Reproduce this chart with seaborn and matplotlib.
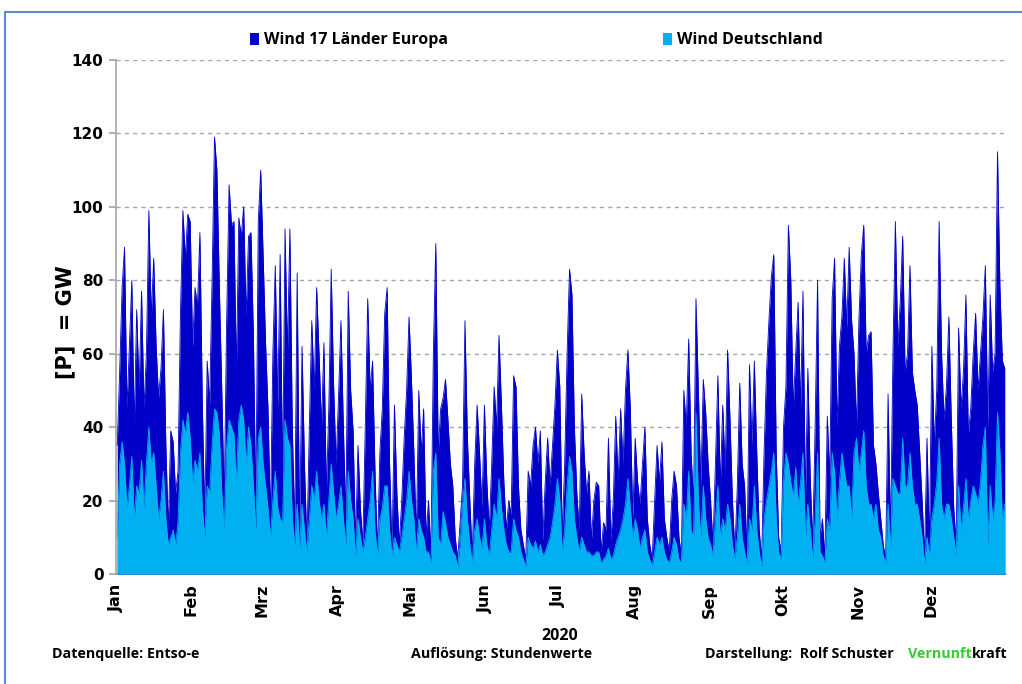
import matplotlib
matplotlib.use("Agg")
import matplotlib.pyplot as plt
import matplotlib.lines as mlines
from matplotlib.patches import Rectangle
import numpy as np
import pandas as pd
import seaborn as sns

# Tageswerte Windleistung 2020 in GW, je Monat
eu_jan = [35, 55, 78, 89, 45, 62, 80, 40, 72, 50, 77, 45, 60, 99, 70, 86, 62, 48, 56, 72,
          35, 12, 39, 36, 22, 28, 71, 99, 86, 98, 96]
eu_feb = [62, 78, 73, 93, 46, 15, 58, 46, 80, 119, 110, 78, 50, 20, 69, 106, 95, 96, 55, 97,
          92, 100, 70, 92, 93, 65, 18, 96, 110]
eu_mar = [87, 63, 45, 15, 60, 84, 45, 87, 25, 94, 60, 94, 40, 12, 82, 10, 62, 30, 8, 40,
          69, 50, 78, 60, 40, 63, 22, 45, 83, 51, 30]
eu_apr = [48, 69, 40, 15, 77, 50, 39, 8, 35, 18, 8, 40, 75, 50, 58, 28, 6, 33, 45, 71,
          78, 30, 6, 46, 22, 8, 20, 37, 50, 70]
eu_mai = [53, 33, 10, 50, 33, 45, 10, 20, 5, 60, 90, 33, 45, 48, 53, 42, 30, 24, 10, 4,
          14, 24, 69, 37, 20, 5, 30, 46, 33, 18, 46]
eu_jun = [25, 12, 30, 51, 40, 65, 46, 25, 12, 20, 16, 54, 51, 24, 12, 8, 4, 28, 24, 35,
          40, 30, 39, 9, 25, 37, 24, 35, 46, 61]
eu_jul = [51, 10, 30, 60, 83, 76, 40, 22, 12, 49, 33, 22, 28, 9, 20, 25, 24, 6, 14, 12,
          37, 9, 20, 43, 25, 45, 30, 50, 61, 45, 15]
eu_aug = [37, 25, 19, 30, 40, 15, 8, 4, 20, 35, 25, 36, 15, 10, 6, 20, 28, 24, 10, 5,
          50, 40, 64, 33, 19, 75, 50, 24, 53, 44, 30]
eu_sep = [20, 8, 30, 54, 24, 46, 28, 61, 42, 20, 6, 24, 52, 30, 24, 5, 57, 35, 58, 33,
          12, 4, 33, 55, 69, 81, 87, 33, 10, 6]
eu_okt = [40, 51, 95, 80, 45, 60, 74, 45, 77, 20, 56, 26, 8, 40, 80, 10, 15, 4, 43, 26,
          75, 86, 40, 62, 70, 86, 67, 89, 69, 60, 40]
eu_nov = [69, 87, 95, 60, 65, 66, 35, 30, 22, 15, 8, 4, 49, 10, 60, 96, 62, 74, 92, 55,
          60, 84, 55, 50, 46, 33, 20, 5, 37, 8]
eu_dez = [62, 35, 50, 96, 60, 42, 51, 70, 42, 18, 8, 67, 45, 55, 76, 38, 45, 60, 71, 50,
          60, 70, 84, 40, 76, 55, 60, 115, 78, 58, 56]

de_jan = [10, 30, 36, 30, 18, 24, 32, 15, 24, 22, 31, 18, 30, 40, 30, 33, 24, 15, 20, 28,
          15, 8, 10, 12, 8, 14, 33, 42, 38, 44, 37]
de_feb = [25, 31, 28, 33, 18, 10, 24, 22, 35, 45, 44, 38, 22, 12, 35, 42, 40, 38, 25, 42,
          46, 42, 30, 40, 35, 24, 12, 37, 40]
de_mar = [30, 24, 18, 10, 20, 28, 18, 15, 14, 42, 37, 35, 15, 8, 19, 7, 19, 12, 6, 15,
          24, 20, 28, 20, 15, 19, 10, 20, 30, 22, 15]
de_apr = [19, 24, 15, 8, 28, 20, 15, 5, 15, 10, 6, 10, 15, 20, 28, 12, 5, 15, 18, 24,
          24, 12, 5, 10, 8, 6, 10, 15, 20, 28]
de_mai = [20, 15, 6, 15, 12, 10, 6, 6, 3, 28, 33, 10, 8, 17, 14, 10, 8, 6, 5, 2,
          8, 19, 26, 15, 8, 3, 12, 15, 10, 7, 15]
de_jun = [8, 5, 12, 19, 15, 26, 18, 12, 8, 6, 6, 15, 12, 10, 6, 4, 2, 10, 8, 7,
          9, 6, 8, 5, 6, 8, 10, 14, 19, 26]
de_jul = [20, 6, 12, 24, 32, 28, 15, 10, 6, 10, 8, 6, 6, 5, 5, 6, 6, 3, 4, 5,
          7, 4, 5, 8, 10, 12, 15, 19, 26, 18, 10]
de_aug = [15, 12, 7, 10, 12, 6, 4, 2, 6, 10, 8, 10, 6, 4, 3, 6, 10, 8, 4, 3,
          19, 15, 28, 12, 10, 44, 20, 10, 24, 15, 10]
de_sep = [8, 5, 15, 24, 10, 15, 12, 19, 15, 8, 4, 10, 19, 10, 6, 3, 15, 12, 24, 12,
          6, 2, 15, 20, 24, 28, 33, 15, 6, 4]
de_okt = [25, 33, 30, 25, 21, 29, 19, 25, 33, 10, 19, 12, 4, 15, 33, 6, 5, 3, 15, 12,
          33, 28, 15, 25, 33, 28, 24, 24, 15, 33, 37]
de_nov = [28, 33, 39, 24, 19, 19, 15, 19, 12, 10, 5, 3, 19, 7, 26, 24, 22, 22, 37, 24,
          24, 33, 24, 19, 19, 15, 10, 3, 10, 5]
de_dez = [15, 19, 25, 37, 19, 15, 19, 19, 15, 10, 5, 24, 12, 18, 26, 15, 20, 24, 22, 19,
          25, 35, 40, 8, 24, 15, 20, 44, 33, 15, 19]

monate = ["Jan", "Feb", "Mrz", "Apr", "Mai", "Jun", "Jul", "Aug", "Sep", "Okt", "Nov", "Dez"]
y_ticks = [0, 20, 40, 60, 80, 100, 120, 140]
serie_eu = "Wind 17 Länder Europa"
serie_de = "Wind Deutschland"

EU_COLOR = "#0000C8"
DE_COLOR = "#00B0F0"
GRID_COLOR = "#A6A6A6"
SANS = ["Open Sans", "DejaVu Sans"]

eu = sum([eu_jan, eu_feb, eu_mar, eu_apr, eu_mai, eu_jun,
          eu_jul, eu_aug, eu_sep, eu_okt, eu_nov, eu_dez], [])
de = sum([de_jan, de_feb, de_mar, de_apr, de_mai, de_jun,
          de_jul, de_aug, de_sep, de_okt, de_nov, de_dez], [])
tage = pd.date_range("2020-01-01 12:00", periods=len(eu), freq="D")
df = pd.DataFrame({"Datum": tage, "Europa": eu, "Deutschland": de})

sns.set_theme(style="white")
plt.rcParams["font.family"] = ["DejaVu Sans"]
plt.rcParams["text.color"] = "black"

fig = plt.figure(figsize=(10.22, 6.84), dpi=100)
ax = fig.add_axes([116 / 1022, 1 - 574 / 684, 890 / 1022, 514 / 684])

sns.lineplot(data=df, x="Datum", y="Europa", ax=ax, color=EU_COLOR, lw=0.6, zorder=3)
ax.fill_between(df["Datum"], 0, df["Europa"], color=EU_COLOR, lw=0, zorder=3)
sns.lineplot(data=df, x="Datum", y="Deutschland", ax=ax, color=DE_COLOR, lw=0.6, zorder=4)
ax.fill_between(df["Datum"], 0, df["Deutschland"], color=DE_COLOR, lw=0, zorder=4)

ax.set_xlim(pd.Timestamp("2020-01-01"), pd.Timestamp("2021-01-01"))
ax.set_ylim(0, 140)
ax.set_yticks(y_ticks)
ax.set_yticklabels([str(v) for v in y_ticks], fontsize=11, fontweight="bold", color="black")
ax.set_xticks(pd.date_range("2020-01-01", periods=12, freq="MS"))
ax.set_xticklabels(monate, rotation=90, fontsize=11.5, fontweight="bold", color="black")
ax.set_xlabel("")
ax.set_ylabel("")

ax.set_axisbelow(True)
ax.yaxis.grid(True, linestyle=(0, (3, 3)), color=GRID_COLOR, lw=1)
ax.xaxis.grid(False)
for side in ("top", "right"):
    ax.spines[side].set_visible(False)
for side in ("left", "bottom"):
    ax.spines[side].set_color(GRID_COLOR)
    ax.spines[side].set_linewidth(1.2)
ax.tick_params(axis="y", left=True, length=5, color=GRID_COLOR, pad=4)
ax.tick_params(axis="x", bottom=False, length=0, pad=7)

# Achsentitel
fig.text(65 / 1022, 1 - 322 / 684, "[P]  = GW", rotation=90, fontsize=15,
         fontweight="bold", ha="center", va="center", color="black")
fig.text(560 / 1022, 1 - 636 / 684, "2020", fontsize=11.5, fontweight="bold",
         ha="center", va="center", family=SANS, color="black")

# Legende oben
for x0, farbe, name in ((250, EU_COLOR, serie_eu), (663, DE_COLOR, serie_de)):
    fig.patches.append(Rectangle((x0 / 1022, 1 - 45 / 684), 9 / 1022, 12 / 684,
                                 transform=fig.transFigure, facecolor=farbe,
                                 edgecolor="none", figure=fig))
    fig.text((x0 + 14) / 1022, 1 - 40 / 684, name, fontsize=11.5, fontweight="bold",
             ha="left", va="center", family=SANS, color="black")

# Fußzeile
fy = 1 - 654 / 684
fuss = dict(fontsize=10.3, fontweight="bold", va="center", family=SANS, color="black")
fig.text(52 / 1022, fy, "Datenquelle: Entso-e", ha="left", **fuss)
fig.text(502 / 1022, fy, "Auflösung: Stundenwerte", ha="center", **fuss)
fig.text(705 / 1022, fy, "Darstellung:  Rolf Schuster", ha="left", **fuss)
t_v = fig.text(908 / 1022, fy, "Vernunft", ha="left",
               **{**fuss, "color": "#33CC33"})
ax.annotate("kraft", xy=(1, 0.5), xycoords=t_v, ha="left", annotation_clip=False, **fuss)

# Rahmen
rahmen = "#5B8BD0"
fig.add_artist(mlines.Line2D([5 / 1022, 1], [1 - 12 / 684, 1 - 12 / 684],
                             transform=fig.transFigure, color=rahmen, lw=1.5))
fig.add_artist(mlines.Line2D([5 / 1022, 5 / 1022], [0, 1 - 12 / 684],
                             transform=fig.transFigure, color=rahmen, lw=1.5))

fig.savefig("out.png", dpi=100)
